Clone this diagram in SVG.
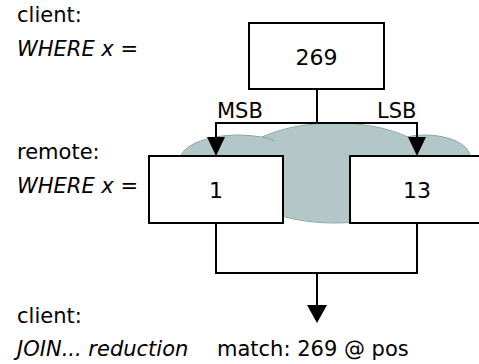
<svg xmlns="http://www.w3.org/2000/svg" width="479" height="364" viewBox="0 0 479 364">
  <style>
    .lbl { font-family: "DejaVu Sans", sans-serif; font-size: 21px; fill: #000; }
    .it { font-style: italic; }
    .num { font-family: "DejaVu Sans", sans-serif; font-size: 22px; fill: #000; text-anchor: middle; }
    .box { fill: #fff; stroke: #000; stroke-width: 2; }
    .wire { fill: none; stroke: #000; stroke-width: 2; }
    .cloud-edge { fill: #b3c6c8; stroke: #82a2a4; stroke-width: 1; }
    .cloud-fill { fill: #b3c6c8; stroke: none; }
    .head { fill: #000; stroke: none; }
  </style>
  <rect width="479" height="364" fill="#fff"/>

  <!-- cloud behind the remote boxes: outlined lobes, then fills to merge them -->
  <g id="cloud">
    <ellipse class="cloud-edge" cx="238" cy="160" rx="58" ry="25"/>
    <ellipse class="cloud-edge" cx="335" cy="173" rx="105" ry="50"/>
    <ellipse class="cloud-edge" cx="425" cy="157" rx="45" ry="22"/>
    <ellipse class="cloud-fill" cx="238" cy="160" rx="57.5" ry="24.5"/>
    <ellipse class="cloud-fill" cx="335" cy="173" rx="104.5" ry="49.5"/>
    <ellipse class="cloud-fill" cx="425" cy="157" rx="44.5" ry="21.5"/>
    <path d="M262,137 Q270,138 274,141" fill="none" stroke="#82a2a4" stroke-width="1"/>
  </g>

  <!-- connectors -->
  <g id="connectors">
    <path class="wire" d="M317,89 V123 M216,123 H417 M216,122 V138 M417,122 V138"/>
    <polygon class="head" points="207,137 225,137 216,156"/>
    <polygon class="head" points="408,137 426,137 417,156"/>
    <path class="wire" d="M216,223 V273 H417 V223 M317,273 V306"/>
    <polygon class="head" points="307,305 327,305 317,323"/>
    <text class="lbl" x="217" y="118">MSB</text>
    <text class="lbl" x="377" y="118">LSB</text>
  </g>

  <g id="node-269">
    <rect class="box" x="249" y="23" width="135" height="66"/>
    <text class="num" x="316.5" y="65">269</text>
  </g>
  <g id="node-1">
    <rect class="box" x="149" y="156" width="134" height="67"/>
    <text class="num" x="216" y="198">1</text>
  </g>
  <g id="node-13">
    <rect class="box" x="350" y="156" width="134" height="67"/>
    <text class="num" x="417" y="198">13</text>
  </g>

  <!-- side captions -->
  <g id="captions">
    <text class="lbl" x="17" y="22">client:</text>
    <text class="lbl it" x="17" y="56">WHERE x =</text>
    <text class="lbl" x="17" y="159">remote:</text>
    <text class="lbl it" x="17" y="193">WHERE x =</text>
    <text class="lbl" x="17" y="323">client:</text>
    <text class="lbl it" x="17" y="356">JOIN... reduction</text>
    <text class="lbl" x="217" y="356">match: 269 @ pos</text>
  </g>
</svg>
